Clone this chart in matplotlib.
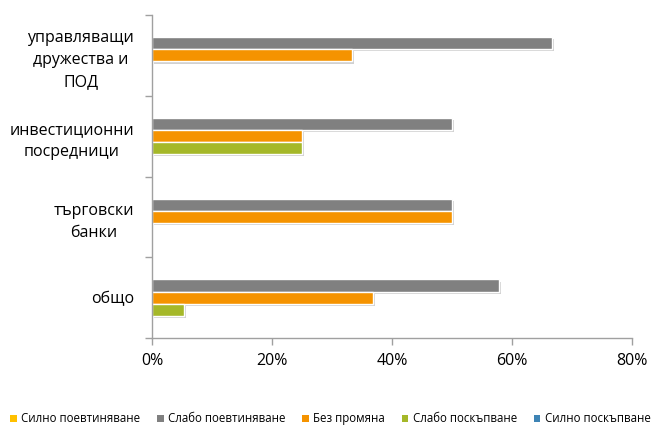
import matplotlib
matplotlib.use("Agg")
import matplotlib.pyplot as plt
import matplotlib.patheffects as pe
import numpy as np

plt.rcParams['font.family'] = ['Open Sans', 'DejaVu Sans']

categories = ["управляващи\nдружества и\nПОД", "инвестиционни\nпосредници", "търговски\nбанки", "общо"]
series_names = ["Силно поевтиняване", "Слабо поевтиняване", "Без промяна", "Слабо поскъпване", "Силно поскъпване"]
values = {
    "Силно поевтиняване": [0.0, 0.0, 0.0, 0.0],
    "Слабо поевтиняване": [66.7, 50.0, 50.0, 57.9],
    "Без промяна": [33.3, 25.0, 50.0, 36.8],
    "Слабо поскъпване": [0.0, 25.0, 0.0, 5.3],
    "Силно поскъпване": [0.0, 0.0, 0.0, 0.0],
}
colors = ["#FFC000", "#808080", "#F59300", "#A5B829", "#3E84B5"]
xticks = [0, 20, 40, 60, 80]

fig = plt.figure(figsize=(6.57, 4.25), dpi=100)
ax = fig.add_axes([152 / 657, (425 - 338) / 425, 480 / 657, 323 / 425])

h = 0.15
centers = np.arange(len(categories))[::-1].astype(float)
shadow = [pe.SimplePatchShadow(offset=(1.5, -1.5), shadow_rgbFace="#000000", alpha=0.18), pe.Normal()]
for i, (name, col) in enumerate(zip(series_names, colors)):
    y = centers + (2 - i) * h
    vals = values[name]
    bars = ax.barh(y, vals, height=h, color=col, edgecolor="white", linewidth=1.0, label=name)
    for b, v in zip(bars, vals):
        if v > 0:
            b.set_path_effects(shadow)

ax.set_xlim(0, 80)
ax.set_ylim(-0.5, len(categories) - 0.5)
ax.set_xticks(xticks)
ax.set_xticklabels([f"{t}%" for t in xticks], fontsize=11.5)
ax.set_yticks(centers)
ax.set_yticklabels(categories, fontsize=11.5)
for lab in ax.get_yticklabels():
    lab.set_multialignment("center")
    lab.set_linespacing(1.5)
ax.set_yticks(np.arange(len(categories) + 1) - 0.5, minor=True)
ax.tick_params(axis="y", which="major", length=0, pad=13)
ax.tick_params(axis="y", which="minor", length=5, color="#A0A0A0", width=1)
ax.tick_params(axis="x", length=5, color="#A0A0A0", width=1, pad=6)
for s in ["top", "right"]:
    ax.spines[s].set_visible(False)
for s in ["left", "bottom"]:
    ax.spines[s].set_color("#A0A0A0")
    ax.spines[s].set_linewidth(1)

handles, labels = ax.get_legend_handles_labels()
leg = fig.legend(handles, labels, loc="lower center", bbox_to_anchor=(0.503, -0.025), ncol=5,
                 frameon=False, fontsize=8.3, handlelength=0.55, handleheight=0.55,
                 handletextpad=0.4, columnspacing=1.45)
for p in leg.get_patches():
    p.set_path_effects([])
    p.set_edgecolor("none")

fig.savefig("out.png", dpi=100)
